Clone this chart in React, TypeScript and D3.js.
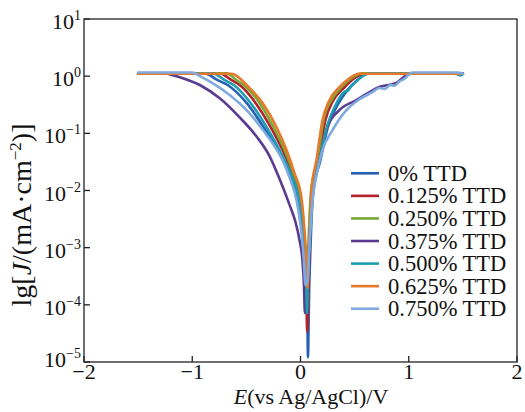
import React from "react";
import * as d3 from "d3";

type Pt = [number, number];

const seriesNames = ["0% TTD", "0.125% TTD", "0.250% TTD", "0.375% TTD", "0.500% TTD", "0.625% TTD", "0.750% TTD"];
const seriesColors = ["#2361b3", "#b3212b", "#76a934", "#5b3b8f", "#1f9bb2", "#e8782a", "#7eaadf"];

const ttd0: Pt[] = [[-1.5,1.12],[-0.885,1.12],[-0.765,0.85],[-0.673,0.70],[-0.498,0.34],[-0.341,0.128],[-0.212,0.051],[-0.101,0.020],[-0.028,0.0074],[0.018,0.002],[0.046,6e-4],[0.06,1.2e-4],[0.065,3.6e-5],[0.069,1.2e-5],[0.074,3.6e-5],[0.078,1.2e-4],[0.088,6e-4],[0.101,3e-3],[0.12,0.010],[0.184,0.034],[0.258,0.14],[0.341,0.31],[0.433,0.57],[0.525,0.85],[0.618,1.12],[1.5,1.12]];
const ttd125: Pt[] = [[-1.5,1.12],[-0.746,1.12],[-0.636,0.85],[-0.562,0.70],[-0.415,0.34],[-0.276,0.128],[-0.166,0.051],[-0.074,0.020],[-0.009,0.0074],[0.028,0.002],[0.046,6e-4],[0.055,1.2e-4],[0.062,3.4e-5],[0.07,1.2e-4],[0.08,6e-4],[0.092,3e-3],[0.106,0.010],[0.166,0.034],[0.23,0.17],[0.304,0.38],[0.406,0.64],[0.498,0.92],[0.60,1.12],[1.5,1.12]];
const ttd250: Pt[] = [[-1.5,1.12],[-0.682,1.12],[-0.59,0.85],[-0.525,0.70],[-0.378,0.34],[-0.249,0.128],[-0.147,0.051],[-0.065,0.020],[0.0,0.0074],[0.03,0.002],[0.048,6e-4],[0.058,2.0e-4],[0.068,6e-4],[0.082,3e-3],[0.098,0.010],[0.157,0.034],[0.212,0.17],[0.286,0.38],[0.378,0.64],[0.47,0.92],[0.571,1.12],[1.5,1.12]];
const ttd375: Pt[] = [[-1.5,1.12],[-1.25,1.12],[-1.18,1.04],[-1.115,0.96],[-0.93,0.70],[-0.746,0.41],[-0.562,0.19],[-0.406,0.088],[-0.286,0.04],[-0.194,0.016],[-0.101,0.0056],[-0.046,0.0028],[-0.009,0.00135],[0.018,6.0e-4],[0.032,2.2e-4],[0.041,7.2e-5],[0.055,1.2e-4],[0.074,6.0e-4],[0.092,3.0e-3],[0.111,8.9e-3],[0.175,0.034],[0.249,0.13],[0.359,0.255],[0.516,0.38],[0.728,0.65],[0.885,0.76],[0.977,1.04],[1.03,1.12],[1.5,1.12]];
const ttd500: Pt[] = [[-1.5,1.12],[-0.81,1.12],[-0.70,0.85],[-0.617,0.70],[-0.461,0.34],[-0.313,0.128],[-0.194,0.051],[-0.092,0.020],[-0.018,0.0074],[0.023,0.002],[0.046,6e-4],[0.055,1.8e-4],[0.06,7.2e-5],[0.066,1.8e-4],[0.078,9e-4],[0.094,3e-3],[0.111,0.010],[0.175,0.034],[0.249,0.14],[0.323,0.31],[0.406,0.53],[0.44,0.56],[0.46,0.64],[0.525,0.85],[0.636,1.12],[1.4,1.12],[1.45,1.08],[1.48,1.03],[1.5,1.08]];
const ttd625: Pt[] = [[-1.5,1.10],[-0.636,1.10],[-0.562,0.92],[-0.498,0.70],[-0.35,0.34],[-0.221,0.128],[-0.129,0.051],[-0.055,0.020],[0.009,0.0074],[0.037,0.002],[0.055,6e-4],[0.065,2.0e-4],[0.074,6e-4],[0.09,3e-3],[0.101,0.010],[0.147,0.034],[0.203,0.17],[0.267,0.38],[0.359,0.64],[0.452,0.92],[0.544,1.10],[1.5,1.10]];
const ttd750: Pt[] = [[-1.5,1.16],[-1.0,1.16],[-0.93,1.0],[-0.81,0.75],[-0.654,0.47],[-0.498,0.254],[-0.359,0.123],[-0.258,0.067],[-0.166,0.034],[-0.101,0.017],[-0.037,0.0068],[0.0,0.0025],[0.028,7.4e-4],[0.046,2.2e-4],[0.065,2.7e-4],[0.083,1.1e-3],[0.111,6.8e-3],[0.147,0.0185],[0.203,0.051],[0.295,0.113],[0.424,0.254],[0.55,0.40],[0.66,0.52],[0.73,0.62],[0.78,0.60],[0.83,0.70],[0.87,0.68],[0.91,0.80],[0.96,0.90],[1.03,1.16],[1.45,1.16],[1.5,1.10]];

const seriesData: Pt[][] = [ttd0, ttd125, ttd250, ttd375, ttd500, ttd625, ttd750];

const xTicks = [-2, -1, 0, 1, 2];
const xTickLabels = ["\u22122", "\u22121", "0", "1", "2"];
const yExponents = [1, 0, -1, -2, -3, -4, -5];

const W = 525, H = 412;
const L = 84, R = 517, T = 19, B = 362;
const FONT = "'Liberation Serif', 'Times New Roman', serif";

export default function App() {
  const x = d3.scaleLinear().domain([-2, 2]).range([L, R]);
  const y = d3.scaleLog().domain([1e-5, 10]).range([B, T]);
  const line = d3.line<Pt>().x(d => x(d[0])).y(d => y(d[1])).curve(d3.curveMonotoneX);
  const legendX = 351, legendY0 = 173.3, legendDy = 22.57;

  return (
    <svg width={W} height={H} style={{ position: "absolute", left: 0, top: 0, background: "#fff" }} fontFamily={FONT}>
      <rect x={0} y={0} width={W} height={H} fill="#fff" />
      <g>
        {seriesData.map((s, i) => (
          <path key={i} d={line(s) || ""} fill="none" stroke={seriesColors[i]} strokeWidth={2.6} strokeLinejoin="round" strokeLinecap="round" />
        ))}
      </g>
      <rect x={L} y={T} width={R - L} height={B - T} fill="none" stroke="#222" strokeWidth={1.3} />
      {xTicks.map((t, i) => (
        <g key={t}>
          <line x1={x(t)} x2={x(t)} y1={B} y2={B - 6} stroke="#222" strokeWidth={1.3} />
          <text x={x(t)} y={379} textAnchor="middle" fontSize={22} fill="#111">{xTickLabels[i]}</text>
        </g>
      ))}
      {yExponents.map(e => (
        <g key={e}>
          <line x1={L} x2={L + 6} y1={y(Math.pow(10, e))} y2={y(Math.pow(10, e))} stroke="#222" strokeWidth={1.3} />
          <text x={81} y={y(Math.pow(10, e)) + (e === -5 ? 5 : 10)} textAnchor="end" fontSize={22} fill="#111">
            <tspan>10</tspan>
            <tspan dy={-9} fontSize={14}>{e < 0 ? "\u2212" + Math.abs(e) : String(e)}</tspan>
          </text>
        </g>
      ))}
      <text x={311} y={404} textAnchor="middle" fontSize={22} fill="#111">
        <tspan fontStyle="italic">E</tspan>(vs Ag/AgCl)/V
      </text>
      <text transform={`translate(31,215) rotate(-90)`} textAnchor="middle" fontSize={28} fill="#111">
        lg[<tspan fontStyle="italic">J</tspan>/(mA·cm<tspan dy={-10} fontSize={17}>{"\u22122"}</tspan><tspan dy={10}>)]</tspan>
      </text>
      <g>
        {seriesNames.map((n, i) => (
          <g key={n}>
            <line x1={legendX} x2={legendX + 28} y1={legendY0 + i * legendDy} y2={legendY0 + i * legendDy} stroke={seriesColors[i]} strokeWidth={2.6} />
            <text x={388} y={legendY0 + i * legendDy + 7.5} fontSize={22.5} fill="#111">{n}</text>
          </g>
        ))}
      </g>
    </svg>
  );
}
